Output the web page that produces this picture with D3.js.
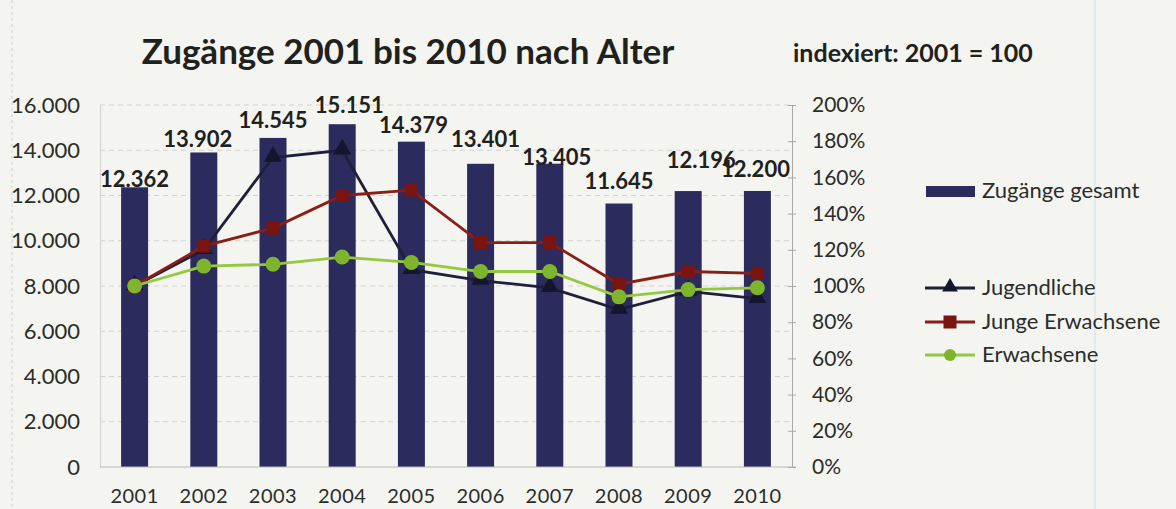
<!DOCTYPE html>
<html><head><meta charset="utf-8">
<script src="https://cdn.jsdelivr.net/npm/d3@7"></script>
<style>
html,body{margin:0;padding:0;background:#f4f4f1;}
svg{display:block;}
text{font-family:Lato,"Open Sans",sans-serif;fill:#2b2d28;}
</style></head>
<body>
<svg id="c" width="1176" height="509"></svg>
<script>
// ---- data ----
const years = ["2001","2002","2003","2004","2005","2006","2007","2008","2009","2010"];
const zugaenge = [12362,13902,14545,15151,14379,13401,13405,11645,12196,12200];
const jugendliche = [100,120,171,175,109,103,99,87,97,93];
const jungeErwachsene = [100,122,132,150,153,124,124,101,108,107];
const erwachsene = [100,111,112,116,113,108,108,94,98,99];
const leftTicks = [0,2000,4000,6000,8000,10000,12000,14000,16000];
const rightTicks = [0,20,40,60,80,100,120,140,160,180,200];
const title = "Zugänge 2001 bis 2010 nach Alter";
const subtitle = "indexiert: 2001 = 100";

// ---- layout ----
const svg = d3.select("#c");
const X0 = 100, X1 = 792, YT = 105, YB = 467;
const x = d3.scaleBand().domain(years).range([X0, X1]).paddingInner(0.61).paddingOuter(0.305);
const yL = d3.scaleLinear().domain([0,16000]).range([YB, YT]);
const yR = d3.scaleLinear().domain([0,200]).range([YB, YT]);
const fmt = d => d3.format(",")(d).replace(/,/g, ".");
// manual label nudges in px (labels were moved by hand in the original)
const labelDx = [0,-6,0,7,2,5,7,0,13,-2];
const labelDy = [0,-5,-10,-11,-9,-17,1,-15,-23,-14];

// scan borders
svg.append("line").attr("x1",12).attr("x2",12).attr("y1",0).attr("y2",509).attr("stroke","#e2e2de").attr("stroke-width",2).attr("stroke-dasharray","3,3");
svg.append("line").attr("x1",1095).attr("x2",1095).attr("y1",0).attr("y2",509).attr("stroke","#d7ecea").attr("stroke-width",1.5);

// title
svg.append("text").attr("x",408).attr("y",64).attr("text-anchor","middle")
  .style("font-size","35px").style("font-weight","700").style("fill","#1f211c").text(title);
svg.append("text").attr("x",793).attr("y",62)
  .style("font-size","25px").style("font-weight","700").style("fill","#1f211c").text(subtitle);

// gridlines
svg.append("g").selectAll("line").data(leftTicks.filter(d=>d>0)).join("line")
  .attr("x1",X0).attr("x2",X1).attr("y1",d=>yL(d)).attr("y2",d=>yL(d))
  .attr("stroke","#d2d2ce").attr("stroke-width",1).attr("stroke-dasharray","5,4");

// left axis
const gL = svg.append("g").attr("transform",`translate(${X0},0)`)
  .call(d3.axisLeft(yL).tickValues(leftTicks).tickFormat(fmt).tickSize(0).tickPadding(20));
gL.select(".domain").attr("stroke","#d2d2ce");
gL.selectAll("text").style("font-size","22px").style("fill","#2b2d28");

// bars
svg.append("g").selectAll("rect").data(zugaenge).join("rect")
  .attr("x",(d,i)=>x(years[i])).attr("width",x.bandwidth())
  .attr("y",d=>yL(d)).attr("height",d=>YB-yL(d)).attr("fill","#2c2b5e");

// x axis line
svg.append("line").attr("x1",X0).attr("x2",X1+4).attr("y1",YB).attr("y2",YB).attr("stroke","#b9b9b5").attr("stroke-width",1);

// x axis labels
const gX = svg.append("g").attr("transform",`translate(0,${YB})`)
  .call(d3.axisBottom(x).tickSize(0).tickPadding(22));
gX.select(".domain").remove();
gX.selectAll("text").style("font-size","20px").style("letter-spacing","0.5px").style("fill","#2b2d28");

// right axis
const gR = svg.append("g").attr("transform",`translate(${X1},0)`)
  .call(d3.axisRight(yR).tickValues(rightTicks).tickFormat(d=>d+"%").tickSizeInner(4).tickSizeOuter(0).tickPadding(16));
gR.select(".domain").attr("stroke","#a9aaa5");
gR.selectAll(".tick line").attr("x1",-4).attr("stroke","#a9aaa5");
gR.selectAll("text").style("font-size","21px").style("fill","#2b2d28");

// lines
const series = [
  {name:"Jugendliche", values:jugendliche, color:"#1e1f3c", mcolor:"#14152e", marker:"triangle"},
  {name:"Junge Erwachsene", values:jungeErwachsene, color:"#8a1e16", mcolor:"#7a1410", marker:"square"},
  {name:"Erwachsene", values:erwachsene, color:"#94c93f", mcolor:"#7fb52c", marker:"circle"}
];
const cx = i => x(years[i]) + x.bandwidth()/2;
const line = d3.line().x((d,i)=>cx(i)).y(d=>yR(d));
function marker(g, type, color, px, py, s){
  if(type==="triangle") g.append("path").attr("d",d3.symbol(d3.symbolTriangle, s*s*0.55)()).attr("transform",`translate(${px},${py-1})`).attr("fill",color);
  else if(type==="square") g.append("rect").attr("x",px-s/2).attr("y",py-s/2).attr("width",s).attr("height",s).attr("fill",color);
  else g.append("circle").attr("cx",px).attr("cy",py).attr("r",s/2).attr("fill",color);
}
series.forEach(s=>{
  const g = svg.append("g");
  g.append("path").datum(s.values).attr("d",line).attr("fill","none").attr("stroke",s.color).attr("stroke-width",2.8);
  s.values.forEach((v,i)=>marker(g,s.marker,s.mcolor,cx(i),yR(v), s.marker==="circle"?15:(s.marker==="square"?13:16)));
});

// bar labels
svg.append("g").selectAll("text").data(zugaenge).join("text")
  .attr("x",(d,i)=>cx(i)+labelDx[i]).attr("y",(d,i)=>yL(d)+labelDy[i])
  .attr("text-anchor","middle").style("font-size","22px").style("font-weight","700").style("fill","#1f211c")
  .text(fmt);

// legend
const LX = 926;
const lg = svg.append("g");
lg.append("rect").attr("x",LX).attr("y",186).attr("width",49).attr("height",11).attr("fill","#2c2b5e");
lg.append("text").attr("x",LX+56).attr("y",198).style("font-size","22px").text("Zugänge gesamt");
const ly = [288,322,355];
series.forEach((s,k)=>{
  lg.append("line").attr("x1",LX-1).attr("x2",LX+49).attr("y1",ly[k]).attr("y2",ly[k]).attr("stroke",s.color).attr("stroke-width",2.8);
  marker(lg,s.marker,s.mcolor,LX+24,ly[k], s.marker==="circle"?12:(s.marker==="square"?13:14));
  lg.append("text").attr("x",LX+56).attr("y",ly[k]+7).style("font-size","22px").text(s.name);
});
</script>
</body></html>
